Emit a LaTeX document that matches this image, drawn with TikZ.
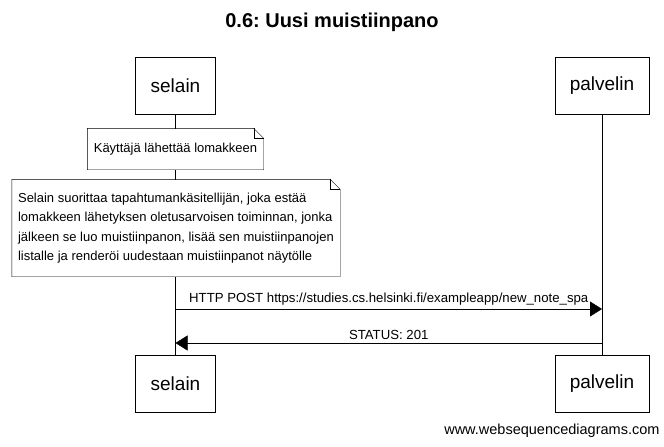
\documentclass[tikz,border=0pt]{standalone}
\usepackage{fontspec}
\setmainfont{Liberation Sans}
\usetikzlibrary{arrows.meta}
\frenchspacing

\tikzset{
  actor/.style={draw, fill=white, minimum height=57pt, inner xsep=15pt, font=\fontsize{19}{22}\selectfont},
  note/.style={fill=white, inner xsep=6pt, font=\fontsize{13}{19.5}\selectfont},
  msg/.style={-{Triangle[length=12pt,width=15pt]}},
  lbl/.style={font=\fontsize{13.2}{15}\selectfont}
}
% note box with folded corner
\newcommand{\notefold}[1]{
  \draw (#1.north west) -- ([xshift=-10pt]#1.north east) -- ([yshift=-10pt]#1.north east)
    -- (#1.south east) -- (#1.south west) -- cycle;
  \draw ([xshift=-10pt]#1.north east) -- ([xshift=-10pt,yshift=-10pt]#1.north east)
    -- ([yshift=-10pt]#1.north east);
}

\begin{document}
\begin{tikzpicture}[x=1pt,y=-1pt]
    \useasboundingbox (0,0) rectangle (664,447);
    \node at (332,22) (title){\fontsize{20}{24}\selectfont\bfseries 0.6: Uusi muistiinpano};

    \node[actor] at (175.5,85.5) (selainTop){selain};
    \node[actor] at (602,85.5) (palvelinTop){palvelin};
    \node[actor] at (175.5,383.5) (selainBot){selain};
    \node[actor] at (602,383.5) (palvelinBot){palvelin};

    \draw (selainTop.south) -- (selainBot.north);
    \draw (palvelinTop.south) -- (palvelinBot.north);

    \node[note, minimum width=176pt, minimum height=41pt] at (175.5,149) (lomake){Käyttäjä lähettää lomakkeen};
    \notefold{lomake}
    \node[note, align=left, minimum width=328pt, minimum height=97pt] at (176,228) (kasittelija){%
      Selain suorittaa tapahtumankäsitellijän, joka estää\\
      lomakkeen lähetyksen oletusarvoisen toiminnan, jonka\\
      jälkeen se luo muistiinpanon, lisää sen muistiinpanojen\\
      listalle ja renderöi uudestaan muistiinpanot näytölle};
    \notefold{kasittelija}

    \coordinate (postFrom) at (175.5,309);
    \coordinate (postTo) at (602,309);
    \coordinate (statusFrom) at (602,343);
    \coordinate (statusTo) at (175.5,343);
    \draw[msg] (postFrom) -- (postTo) node[lbl,above,midway]{HTTP POST https://studies.cs.helsinki.fi/exampleapp/new\_note\_spa};
    \draw[msg] (statusFrom) -- (statusTo) node[lbl,above,midway]{STATUS: 201};

    \node[anchor=east, font=\fontsize{14.5}{16}\selectfont] at (663,431) (footer){www.websequencediagrams.com};
\end{tikzpicture}
\end{document}
